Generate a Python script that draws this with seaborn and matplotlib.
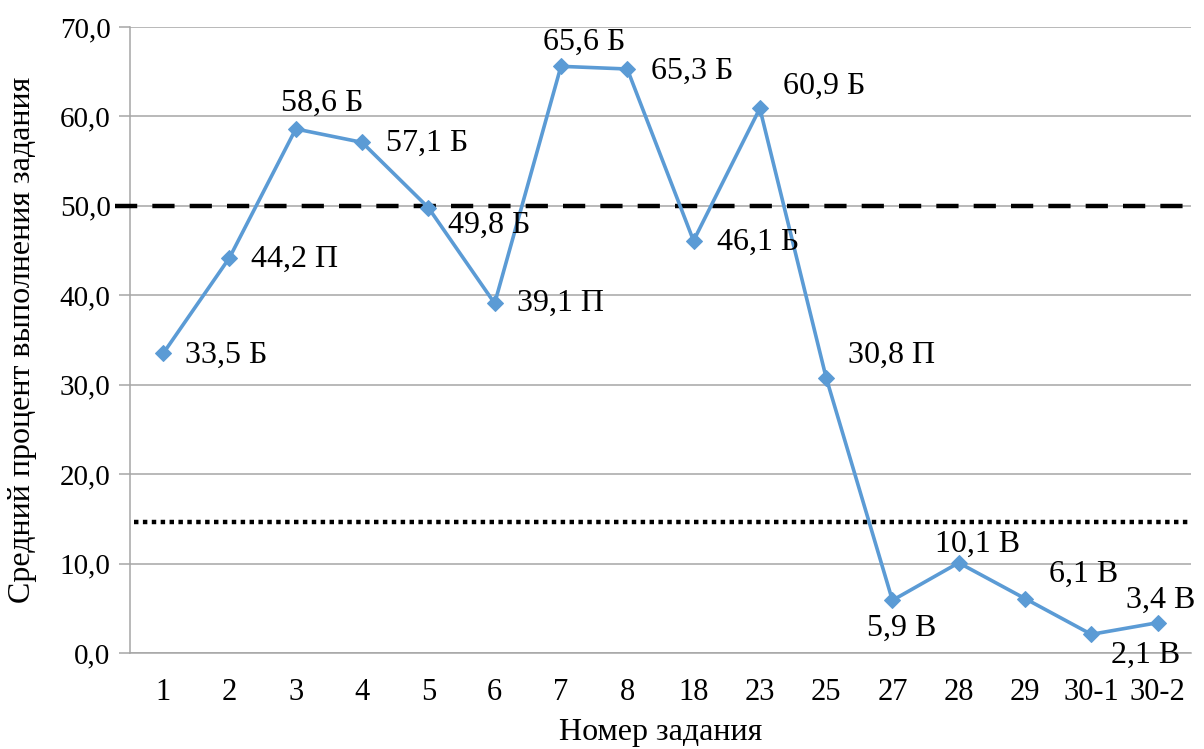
import matplotlib
matplotlib.use("Agg")
import matplotlib.pyplot as plt
from matplotlib.ticker import FuncFormatter, MultipleLocator
import seaborn as sns
import pandas as pd

# data
tasks = ["1", "2", "3", "4", "5", "6", "7", "8", "18", "23", "25", "27", "28", "29", "30-1", "30-2"]
percent = [33.5, 44.2, 58.6, 57.1, 49.8, 39.1, 65.6, 65.3, 46.1, 60.9, 30.8, 5.9, 10.1, 6.1, 2.1, 3.4]
level = ["Б", "П", "Б", "Б", "Б", "П", "Б", "Б", "Б", "Б", "П", "В", "В", "В", "В", "В"]
basic_threshold = 50.0
high_threshold = 14.7

df = pd.DataFrame({"task": tasks, "percent": percent, "level": level})

sns.set_style("white")
plt.rcParams["font.family"] = ["Liberation Serif", "DejaVu Serif"]
plt.rcParams["text.color"] = "black"
plt.rcParams["axes.labelcolor"] = "black"
plt.rcParams["xtick.labelcolor"] = "black"
plt.rcParams["ytick.labelcolor"] = "black"

LINE = "#5B9BD5"
GRID = "#A6A6A6"
FS = 23

fig = plt.figure(figsize=(12.04, 7.49), dpi=100)
ax = fig.add_axes([0.108, 0.128, 0.881, 0.836])

sns.lineplot(
    data=df, x="task", y="percent", sort=False, ax=ax, color=LINE,
    linewidth=2.6, marker="D", markersize=8.5, markeredgecolor=LINE, zorder=4,
)

# reference lines: the dashed one pokes a little left of the plot area, like the original
ax.axhline(basic_threshold, xmin=-0.014, xmax=1, color="black", linewidth=3.2,
           linestyle=(0, (5, 3.4)), clip_on=False, zorder=3)
ax.axhline(high_threshold, xmin=0.004, xmax=1, color="black", linewidth=3.2,
           linestyle=(0, (1, 1)), zorder=3)

# label placement (pixels from point): dx, dy, ha
offsets = {
    "1": (22, -2, "left"), "2": (22, -2, "left"), "3": (26, 26, "center"),
    "4": (24, -1, "left"), "5": (20, -18, "left"), "6": (22, 0, "left"),
    "7": (23, 24, "center"), "8": (24, -2, "left"), "18": (23, -2, "left"),
    "23": (23, 22, "left"), "25": (22, 22, "left"), "27": (9, -28, "center"),
    "28": (19, 18, "center"), "29": (24, 24, "left"), "30-1": (54, -21, "center"),
    "30-2": (3, 22, "center"),
}
for i, row in df.iterrows():
    dx, dy, ha = offsets[row["task"]]
    txt = f"{row['percent']:.1f}".replace(".", ",") + " " + row["level"]
    ax.annotate(txt, (i, row["percent"]), xytext=(dx, dy), textcoords="offset pixels",
                ha=ha, va="center", fontsize=FS, zorder=5)

ax.set_xlim(-0.5, len(tasks) - 0.5)
ax.set_ylim(0, 70)
ax.yaxis.set_major_locator(MultipleLocator(10))
ax.yaxis.set_major_formatter(FuncFormatter(lambda v, p: f"{v:.1f}".replace(".", ",")))
ax.grid(axis="y", color=GRID, linewidth=1.1)
ax.grid(axis="x", visible=False)
for side in ["top", "right"]:
    ax.spines[side].set_visible(False)
ax.spines["left"].set_color(GRID)
ax.spines["bottom"].set_color(GRID)
ax.spines["left"].set_linewidth(1.1)
ax.spines["bottom"].set_linewidth(1.1)
ax.tick_params(axis="y", length=8, width=1.1, color=GRID, labelsize=21, pad=6, left=True)
ax.tick_params(axis="x", length=0, labelsize=22, pad=18)

ax.set_xlabel("Номер задания", fontsize=FS, labelpad=8)
ax.set_ylabel("Средний процент выполнения задания", fontsize=FS, labelpad=16)

fig.savefig("out.png", dpi=100)
